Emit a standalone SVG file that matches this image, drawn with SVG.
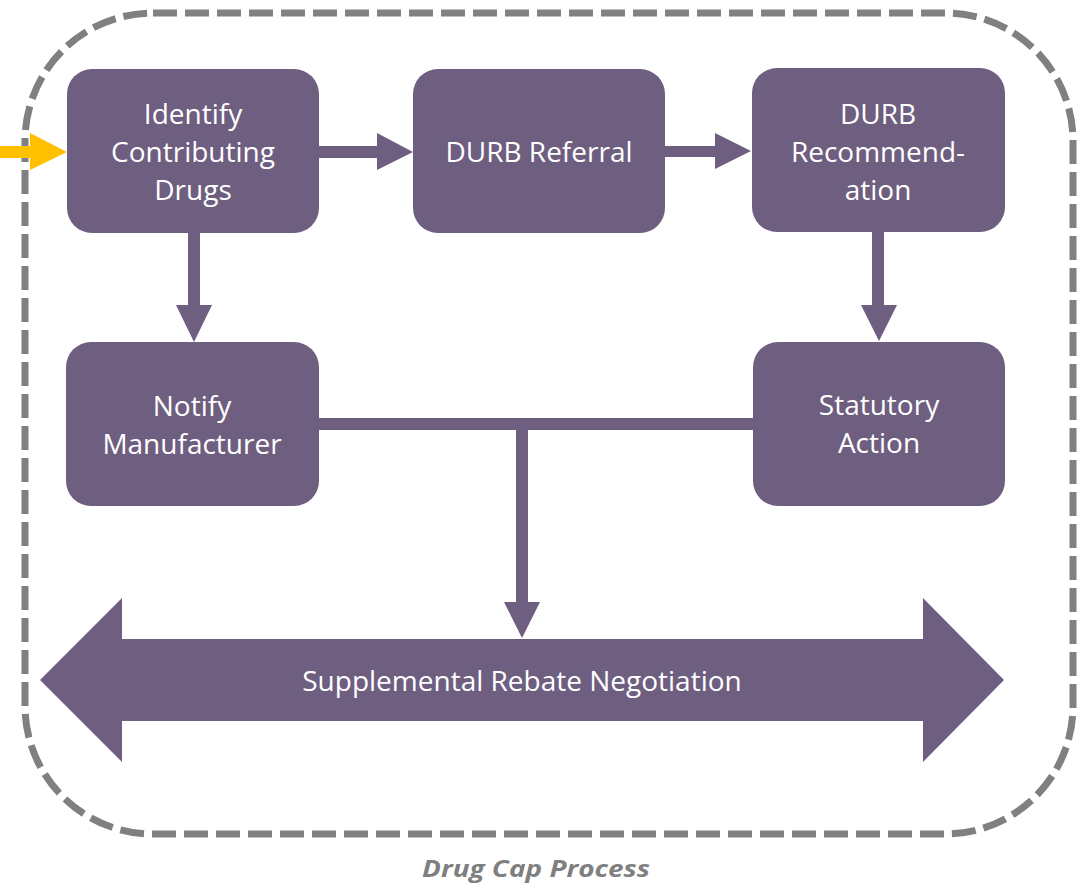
<svg xmlns="http://www.w3.org/2000/svg" width="1089" height="893" viewBox="0 0 1089 893">
<style>
.node{fill:#6E5E80;}
.lbl{font-family:"Open Sans","Liberation Sans",sans-serif;font-size:28px;fill:#FFFFFF;text-anchor:middle;}
.conn{fill:#6E5E80;}
.cap{font-family:"Open Sans","Liberation Sans",sans-serif;font-size:24px;font-weight:bold;font-style:italic;fill:#7F7F7F;text-anchor:middle;}
</style>
<rect x="25" y="13" width="1048" height="821" rx="128" ry="128" fill="none" stroke="#808080" stroke-width="7" stroke-dasharray="24 8"/>
<g id="connectors">
  <polygon fill="#FFC000" points="0,146 30,146 30,133 67,152 30,170 30,158 0,158"/>
  <polygon class="conn" points="319,146 377,146 377,133 413,152 377,170 377,158 319,158"/>
  <polygon class="conn" points="665,146 715,146 715,133 751,151 715,169 715,157 665,157"/>
  <polygon class="conn" points="188,233 200,233 200,305 212,305 194,342 176,305 188,305"/>
  <polygon class="conn" points="872,232 884,232 884,305 897,305 879,341 861,305 872,305"/>
  <rect class="conn" x="318" y="418" width="436" height="12"/>
  <polygon class="conn" points="516,424 528,424 528,602 540,602 522,638 504,602 516,602"/>
</g>
<g id="node-identify">
  <rect class="node" x="67" y="69" width="252" height="164" rx="25"/>
  <text class="lbl" x="193" y="124">Identify</text>
  <text class="lbl" x="193" y="162">Contributing</text>
  <text class="lbl" x="193" y="200">Drugs</text>
</g>
<g id="node-referral">
  <rect class="node" x="413" y="69" width="252" height="164" rx="25"/>
  <text class="lbl" x="539" y="162">DURB Referral</text>
</g>
<g id="node-recommendation">
  <rect class="node" x="752" y="68" width="253" height="164" rx="25"/>
  <text class="lbl" x="878" y="124">DURB</text>
  <text class="lbl" x="878" y="162">Recommend-</text>
  <text class="lbl" x="878" y="200">ation</text>
</g>
<g id="node-notify">
  <rect class="node" x="66" y="342" width="253" height="164" rx="25"/>
  <text class="lbl" x="192" y="416">Notify</text>
  <text class="lbl" x="192" y="454">Manufacturer</text>
</g>
<g id="node-statutory">
  <rect class="node" x="753" y="342" width="252" height="164" rx="25"/>
  <text class="lbl" x="879" y="415">Statutory</text>
  <text class="lbl" x="879" y="453">Action</text>
</g>
<g id="node-negotiation">
  <polygon class="node" points="40,680 122,598 122,639 923,639 923,598 1004,680 923,762 923,721 122,721 122,762"/>
  <text class="lbl" x="522" y="691">Supplemental Rebate Negotiation</text>
</g>
<text class="cap" x="536" y="877" textLength="228" lengthAdjust="spacingAndGlyphs">Drug Cap Process</text>
</svg>
